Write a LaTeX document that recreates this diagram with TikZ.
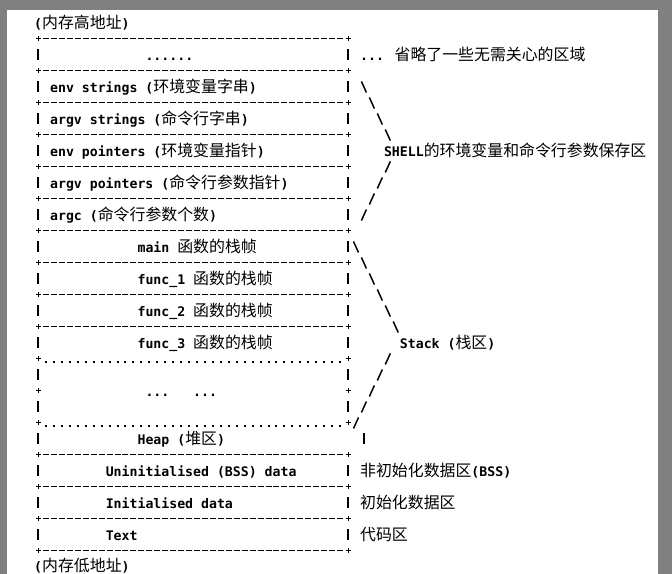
\documentclass[tikz,border=0pt]{standalone}
\usepackage{fontspec}
\usepackage{tikz}
\newfontfamily\monofnt{DejaVu Sans Mono}
\newfontfamily\cjk{Noto Sans CJK SC}
\newcommand{\zhw}[1]{{\cjk\mdseries\fontsize{15.9}{16}\selectfont #1}}
\definecolor{framegray}{RGB}{128,128,128}
\tikzset{
    txt/.style={anchor=base west, inner sep=0pt, xshift=-3.975pt, yshift=-6.5pt,
        font=\monofnt\bfseries\fontsize{13.2}{16}\selectfont},
    dashline/.style={line width=1pt, dash pattern=on 6pt off 1.95pt},
    dotline/.style={line width=2pt, dash pattern=on 2pt off 5.95pt},
    vbar/.style={line width=2.2pt},
    slantline/.style={line width=1.5pt},
    crossmark/.style={line width=1pt}
}

\begin{document}
\begin{tikzpicture}[x=7.95pt, y=-16pt]
    % Frame
    \useasboundingbox (-4.78,-1.406) rectangle (79.75,34.469);
    \fill[framegray] (-4.78,-1.406) rectangle (79.75,34.469);
    \fill[white] (-3.899,-0.781) rectangle (77.99,34.469);
    % Separators
    \foreach \n in {1,3,...,19,27,29,31,33} {
        \draw[dashline] ([xshift=-3pt]1,\n) -- ([xshift=3pt]38,\n);
    }
    \foreach \n in {21,25} {
        \draw[dotline] ([xshift=-1pt,yshift=-4pt]1,\n) -- ([xshift=1pt,yshift=-4pt]38,\n);
    }
    \foreach \n in {1,3,...,33} {
        \foreach \c in {0,39} {
            \draw[crossmark] ([xshift=-2.5pt]\c,\n) -- ([xshift=2.5pt]\c,\n)
                ([yshift=-2.5pt]\c,\n) -- ([yshift=2.5pt]\c,\n);
        }
    }
    % Bars
    \foreach \n in {2,4,...,32} {
        \draw[vbar] ([yshift=5pt]0,\n) -- ([yshift=-6pt]0,\n);
    }
    \foreach \c/\n in {39/2,39/4,39/6,39/8,39/10,39/12,39/14,39/16,39/18,39/20,39/22,39/24,41/26,39/28,39/30,39/32} {
        \draw[vbar] ([yshift=5pt]\c,\n) -- ([yshift=-6pt]\c,\n);
    }
    % Brackets
    \foreach \c/\n in {41/4,42/5,43/6,44/7,40/14,41/15,42/16,43/17,44/18,45/19} {
        \draw[slantline] ([xshift=-2.5pt,yshift=5pt]\c,\n) -- ([xshift=2.5pt,yshift=-6pt]\c,\n);
    }
    \foreach \c/\n in {44/9,43/10,42/11,41/12,44/21,43/22,42/23,41/24,40/25} {
        \draw[slantline] ([xshift=-2.5pt,yshift=-6pt]\c,\n) -- ([xshift=2.5pt,yshift=5pt]\c,\n);
    }
    % Upper part
    \node[txt] (high) at (0,0) {(\zhw{内存高地址})};
    \node[txt] (omitted) at (14,2) {......};
    \node[txt] (omitnote) at (41,2) {... \zhw{省略了一些无需关心的区域}};
    \node[txt] (envstr) at (2,4) {env strings (\zhw{环境变量字串})};
    \node[txt] (argvstr) at (2,6) {argv strings (\zhw{命令行字串})};
    \node[txt] (envptr) at (2,8) {env pointers (\zhw{环境变量指针})};
    \node[txt] (argvptr) at (2,10) {argv pointers (\zhw{命令行参数指针})};
    \node[txt] (argc) at (2,12) {argc (\zhw{命令行参数个数})};
    \node[txt] (shell) at (44,8) {SHELL\zhw{的环境变量和命令行参数保存区}};
    % Stack
    \node[txt] (mainframe) at (13,14) {main \zhw{函数的栈帧}};
    \foreach \i in {1,2,3} {
        \node[txt] (func\i) at (13,{14+2*\i}) {func\_\i\ \zhw{函数的栈帧}};
    }
    \node[txt] (gapA) at (14,23) {...};
    \node[txt] (gapB) at (20,23) {...};
    \node[txt] (stack) at (46,20) {Stack (\zhw{栈区})};
    % Lower part
    \node[txt] (heap) at (13,26) {Heap (\zhw{堆区})};
    \node[txt] (bss) at (9,28) {Uninitialised (BSS) data};
    \node[txt] (data) at (9,30) {Initialised data};
    \node[txt] (text) at (9,32) {Text};
    \node[txt] (bssnote) at (41,28) {\zhw{非初始化数据区}(BSS)};
    \node[txt] (datanote) at (41,30) {\zhw{初始化数据区}};
    \node[txt] (textnote) at (41,32) {\zhw{代码区}};
    \node[txt, yshift=1.8pt] (low) at (0,34) {(\zhw{内存低地址})};
\end{tikzpicture}
\end{document}
